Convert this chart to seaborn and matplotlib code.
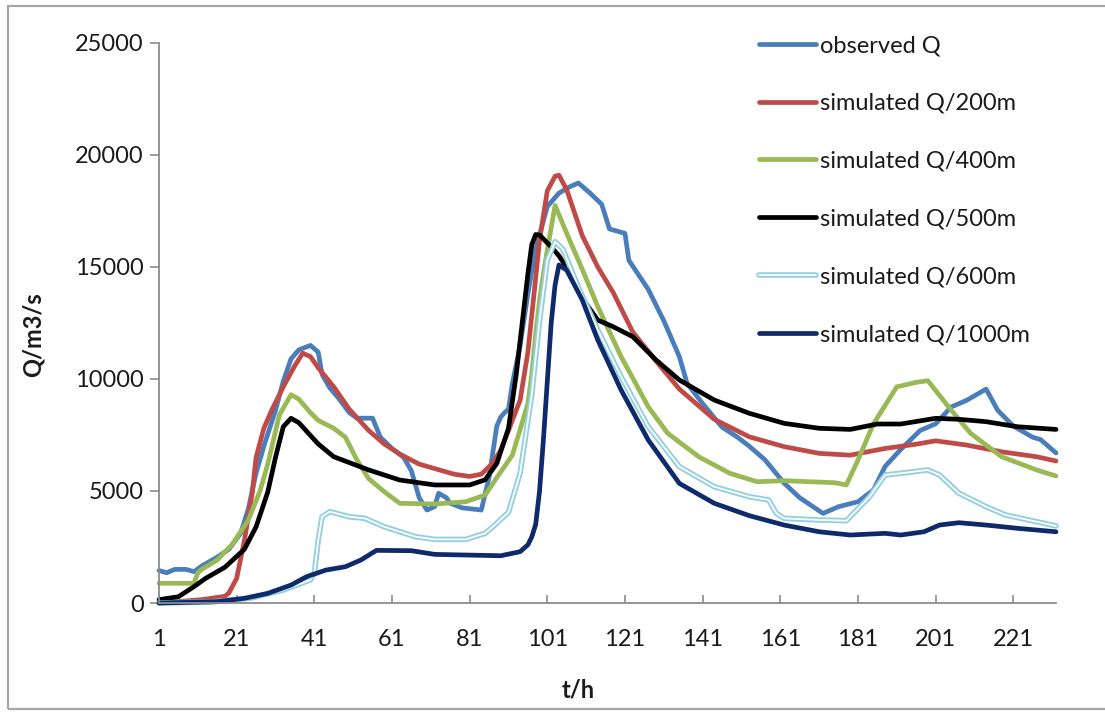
import matplotlib
matplotlib.use("Agg")
import matplotlib.pyplot as plt
import pandas as pd
import seaborn as sns
from matplotlib.lines import Line2D
from matplotlib.patches import Rectangle
from matplotlib.legend_handler import HandlerTuple

# ---- discharge series (t in hours, Q in m3/s) ----
obs_t = [1, 3, 5, 8, 10, 12, 16, 19, 22, 24, 26, 28, 31, 33, 35, 37, 40, 42, 43, 45,
         47, 50, 52, 56, 58, 61, 64, 66, 68, 70, 72, 73, 75, 76, 79, 84, 86, 88, 89, 90,
         91, 92, 94, 96, 98, 101, 104, 107, 109, 112, 115, 117, 121, 122, 127, 131, 135, 137, 141, 146,
         150, 153, 157, 162, 166, 172, 176, 181, 185, 188, 192, 197, 201, 205, 209, 214, 217, 221, 226, 228,
         232]
obs_q = [1450, 1350, 1500, 1500, 1400, 1650, 2050, 2400, 3100, 4200, 5800, 7000, 8600, 9900, 10900, 11300, 11500, 11200, 10200, 9600,
         9200, 8500, 8250, 8250, 7400, 6900, 6500, 5900, 4700, 4150, 4300, 4900, 4700, 4450, 4250, 4150, 5600, 7900, 8300, 8500,
         8650, 9800, 11500, 13800, 15800, 17700, 18300, 18600, 18750, 18300, 17800, 16700, 16500, 15300, 14000, 12600, 11000, 9800, 8900, 7850,
         7400, 7000, 6400, 5350, 4700, 4000, 4300, 4520, 5050, 6100, 6850, 7700, 8000, 8750, 9050, 9550, 8600, 7900, 7400, 7300,
         6700]

s200_t = [1, 5, 12, 18, 19, 21, 23, 25, 26, 28, 30, 33, 36, 38, 40, 42, 46, 50, 55, 59,
          63, 68, 73, 77, 81, 84, 87, 89, 91, 94, 96, 98, 99, 101, 103, 104, 106, 110, 114, 118,
          123, 129, 135, 144, 153, 162, 171, 179, 188, 196, 201, 209, 218, 227, 232]
s200_q = [0, 50, 150, 300, 450, 1100, 2800, 4900, 6500, 7800, 8600, 9650, 10600, 11150, 11000, 10500, 9650, 8650, 7700, 7100,
          6650, 6200, 5950, 5750, 5650, 5750, 6250, 6830, 7700, 9060, 11200, 14500, 16200, 18400, 19050, 19100, 18450, 16400, 15000, 13850,
          12100, 10800, 9550, 8200, 7420, 6980, 6680, 6600, 6900, 7090, 7240, 7050, 6750, 6530, 6340]

s400_t = [1, 10, 11, 12, 16, 20, 24, 27, 29, 32, 35, 37, 40, 42, 46, 49, 52, 55, 59, 63,
          72, 80, 85, 88, 92, 96, 97, 98, 99, 100, 101, 103, 106, 110, 114, 120, 127, 132, 140, 148,
          155, 162, 175, 178, 181, 185, 191, 196, 199, 205, 210, 218, 227, 232]
s400_q = [880, 880, 1350, 1500, 1920, 2650, 3700, 5000, 6200, 8400, 9300, 9100, 8500, 8150, 7800, 7400, 6380, 5550, 4970, 4450,
          4420, 4520, 4820, 5600, 6600, 8900, 10200, 12000, 13500, 14700, 15760, 17750, 16500, 14900, 13230, 11000, 8760, 7575, 6530, 5790,
          5415, 5460, 5370, 5270, 6380, 8000, 9650, 9850, 9925, 8615, 7575, 6530, 5940, 5670]

s500_t = [1, 6, 10, 13, 18, 23, 26, 29, 31, 33, 35, 37, 42, 46, 55, 63, 72, 81, 85, 88,
          91, 93, 96, 97, 98, 99, 102, 104, 107, 110, 114, 118, 123, 129, 135, 144, 153, 162, 171, 179,
          186, 192, 201, 207, 214, 222, 232]
s500_q = [150, 280, 730, 1100, 1600, 2400, 3400, 4950, 6500, 7870, 8245, 8050, 7100, 6530, 5940, 5490, 5270, 5270, 5500, 6235,
          7800, 10200, 14700, 16000, 16450, 16430, 15900, 15500, 14720, 13600, 12630, 12330, 11890, 10850, 9955, 9060, 8470, 8020, 7800, 7750,
          7990, 7990, 8245, 8200, 8095, 7870, 7750]

s600_t = [1, 15, 25, 33, 40, 41, 42, 43, 45, 50, 54, 59, 67, 72, 80, 85, 87, 91, 94, 97,
          99, 101, 103, 105, 109, 114, 120, 127, 135, 144, 153, 158, 160, 162, 171, 178, 179, 184, 188, 192,
          199, 202, 207, 214, 219, 227, 232]
s600_q = [0, 50, 230, 580, 1030, 1340, 2800, 3850, 4075, 3850, 3780, 3405, 2960, 2840, 2840, 3110, 3405, 4050, 5800, 9300,
          12600, 15310, 16130, 15800, 14100, 12190, 10100, 7870, 6085, 5190, 4745, 4600, 4000, 3780, 3705, 3675, 3850, 4745, 5715, 5790,
          5940, 5715, 4900, 4300, 3930, 3630, 3440]

s1000_t = [1, 16, 23, 29, 35, 39, 44, 49, 53, 57, 66, 72, 89, 94, 96, 97, 98, 99, 100, 101,
           102, 103, 104, 106, 110, 114, 120, 127, 135, 144, 153, 162, 171, 179, 188, 192, 198, 202, 207, 214,
           222, 232]
s1000_q = [0, 60, 210, 430, 800, 1175, 1470, 1620, 1920, 2350, 2335, 2170, 2110, 2290, 2600, 2950, 3500, 5000, 7300, 9900,
           12500, 14200, 15090, 14860, 13530, 11740, 9510, 7275, 5340, 4450, 3900, 3480, 3180, 3035, 3110, 3035, 3180, 3480, 3585, 3480,
           3335, 3180]

labels = ["observed Q", "simulated Q/200m", "simulated Q/400m",
          "simulated Q/500m", "simulated Q/600m", "simulated Q/1000m"]
colors = ["#4A7EBB", "#BE4B48", "#98B954", "#000000", "#93CFE0", "#0E2A6B"]
x_ticks = list(range(1, 222, 20))
y_ticks = [0, 5000, 10000, 15000, 20000, 25000]

sns.set_theme(style="white")
plt.rcParams["font.family"] = ["Lato", "DejaVu Sans"]

W, H = 1105, 713
fig = plt.figure(figsize=(W / 100, H / 100), dpi=100)
ax = fig.add_axes([159 / W, 1 - 603 / H, (1056 - 159) / W, (603 - 43) / H])

data = [(obs_t, obs_q), (s200_t, s200_q), (s400_t, s400_q),
        (s500_t, s500_q), (s600_t, s600_q), (s1000_t, s1000_q)]

LW = 3.4
handles = []
for (t, q), name, col in zip(data, labels, colors):
    df = pd.DataFrame({"t": t, "Q": q})
    line_kw = dict(solid_joinstyle="round", solid_capstyle="round", clip_on=False)
    if name.endswith("600m"):
        # double line: light blue outline with a white core
        sns.lineplot(data=df, x="t", y="Q", ax=ax, color=col, lw=4.0, **line_kw)
        sns.lineplot(data=df, x="t", y="Q", ax=ax, color="white", lw=1.3, **line_kw)
        handles.append((Line2D([], [], color=col, lw=4.0, solid_capstyle="round"),
                        Line2D([], [], color="white", lw=1.3, solid_capstyle="round")))
    else:
        sns.lineplot(data=df, x="t", y="Q", ax=ax, color=col, lw=LW, **line_kw)
        handles.append(Line2D([], [], color=col, lw=LW, solid_capstyle="round"))

ax.set_xlim(1, 232)
ax.set_ylim(0, 25000)
ax.set_xticks(x_ticks)
ax.set_xticklabels([str(v) for v in x_ticks])
ax.set_yticks(y_ticks)
ax.set_yticklabels([str(v) for v in y_ticks])
ax.set_xlabel("")
ax.set_ylabel("")

for side in ["top", "right"]:
    ax.spines[side].set_visible(False)
for side in ["left", "bottom"]:
    ax.spines[side].set_color("#8C8C8C")
    ax.spines[side].set_linewidth(1.3)

ax.tick_params(axis="y", direction="out", length=6.5, width=1.2, color="#8C8C8C",
               pad=4.5, labelsize=17, labelcolor="#1a1a1a", left=True)
ax.tick_params(axis="x", direction="in", length=5.8, width=1.2, color="#8C8C8C",
               pad=19, labelsize=17, labelcolor="#1a1a1a", bottom=True)
ax.grid(False)

fig.text(33 / W, 1 - 335 / H, "Q/m3/s", rotation=90, ha="center", va="center",
         fontsize=17, fontweight="bold", color="#1a1a1a")
fig.text(578 / W, 1 - 690 / H, "t/h", ha="center", va="center",
         fontsize=17, fontweight="bold", color="#1a1a1a")

leg = ax.legend(handles, labels, loc="upper left",
                bbox_to_anchor=(759 / W, 1 - 35 / H), bbox_transform=fig.transFigure,
                frameon=False, fontsize=17, handlelength=2.4, handletextpad=0.2,
                labelspacing=1.56, borderpad=0, borderaxespad=0,
                handler_map={tuple: HandlerTuple(ndivide=1)})
for txt in leg.get_texts():
    txt.set_color("#1a1a1a")

# chart-area border
fig.add_artist(Rectangle((8 / W, 1 - 709 / H), (W + 20) / W, (709 - 6) / H,
                         transform=fig.transFigure, fill=False,
                         edgecolor="#A6A6A6", lw=1.6, clip_on=False))

fig.savefig("out.png", dpi=100, facecolor="white")
